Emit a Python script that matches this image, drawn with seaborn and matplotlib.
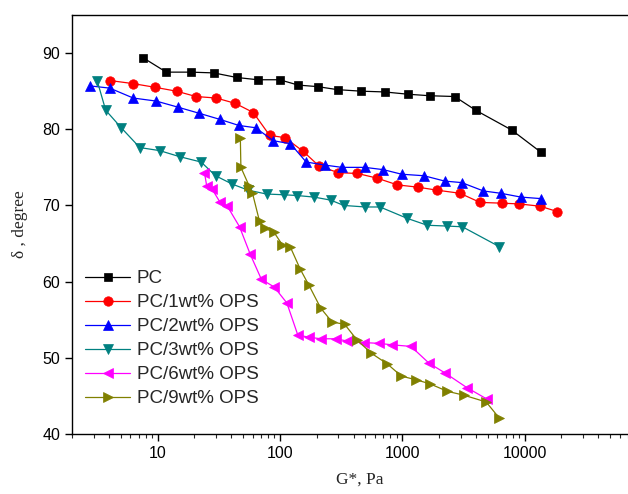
import matplotlib
matplotlib.use("Agg")
import matplotlib.pyplot as plt
import seaborn as sns
import numpy as np
from matplotlib.ticker import LogLocator, NullFormatter, FixedLocator

sns.set_style("ticks")
plt.rcParams['font.family'] = ['Liberation Sans', 'DejaVu Sans']

# ---- data ----
labels = ["PC", "PC/1wt% OPS", "PC/2wt% OPS", "PC/3wt% OPS", "PC/6wt% OPS", "PC/9wt% OPS"]

pc_x = [7.6, 11.8, 18.6, 28.8, 44.3, 66, 99.5, 141, 203, 296, 463, 718, 1114, 1684, 2680, 3980, 7840, 13550]
pc_y = [89.4, 87.5, 87.5, 87.4, 86.8, 86.5, 86.5, 85.8, 85.6, 85.2, 85.0, 84.9, 84.6, 84.4, 84.3, 82.5, 79.9, 77.0]

pc1_x = [4.07, 6.28, 9.6, 14.3, 20.6, 30.2, 43.2, 60.6, 82.4, 110, 155, 208, 300, 430, 618, 912, 1343, 1935, 2962, 4320, 6500, 9070, 13360, 18500]
pc1_y = [86.4, 86.0, 85.5, 85.0, 84.3, 84.1, 83.4, 82.2, 79.2, 78.9, 77.1, 75.2, 74.3, 74.2, 73.6, 72.7, 72.4, 72.0, 71.6, 70.4, 70.3, 70.2, 69.9, 69.2]

pc2_x = [2.79, 4.07, 6.33, 9.76, 14.7, 21.9, 32.3, 46.2, 63.3, 88.3, 122, 164, 233, 321, 493, 700, 988, 1504, 2220, 3060, 4610, 6380, 9300, 13540]
pc2_y = [85.7, 85.4, 84.1, 83.7, 82.9, 82.1, 81.3, 80.5, 80.2, 78.5, 78.1, 75.7, 75.3, 75.0, 75.0, 74.7, 74.1, 73.9, 73.2, 73.0, 71.9, 71.6, 71.1, 70.9]

pc3_x = [3.21, 3.77, 5.05, 7.16, 10.4, 15.2, 22.7, 29.8, 40.8, 55.2, 77.8, 109, 139, 190, 260, 333, 500, 658, 1100, 1600, 2300, 3100, 6200]
pc3_y = [86.4, 82.5, 80.2, 77.6, 77.2, 76.4, 75.7, 73.9, 72.8, 72.0, 71.5, 71.4, 71.3, 71.1, 70.7, 70.0, 69.8, 69.8, 68.3, 67.4, 67.3, 67.2, 64.6]

pc6_x = [24.2, 25.2, 27.8, 32.2, 37.2, 46.8, 57.2, 70.6, 89.8, 114, 140, 173, 216, 285, 356, 486, 645, 829, 1178, 1653, 2242, 3363, 4900]
pc6_y = [74.3, 72.6, 72.2, 70.5, 69.9, 67.2, 63.6, 60.3, 59.3, 57.2, 53.0, 52.7, 52.5, 52.5, 52.2, 52.0, 51.9, 51.7, 51.5, 49.3, 48.0, 46.1, 44.6]

pc9_x = [47.5, 48.0, 56.3, 59.5, 68.2, 75.0, 89.3, 105, 122, 147, 173, 216, 267, 338, 429, 559, 755, 983, 1307, 1675, 2338, 3180, 4850, 6200]
pc9_y = [78.9, 75.0, 72.5, 71.7, 67.9, 67.0, 66.5, 64.8, 64.5, 61.6, 59.5, 56.5, 54.7, 54.4, 52.3, 50.6, 49.2, 47.6, 47.1, 46.6, 45.6, 45.1, 44.2, 42.1]

xticks = [10, 100, 1000, 10000]
xtick_labels = ["10", "100", "1000", "10000"]
yticks = [40, 50, 60, 70, 80, 90]

series_x = [pc_x, pc1_x, pc2_x, pc3_x, pc6_x, pc9_x]
series_y = [pc_y, pc1_y, pc2_y, pc3_y, pc6_y, pc9_y]
colors = ["#000000", "#FF0000", "#0000FF", "#008080", "#FF00FF", "#808000"]
markers = ["s", "o", "^", "v", "<", ">"]
msizes = [6.0, 6.8, 7.5, 7.5, 7.5, 7.5]

fig = plt.figure(figsize=(6.28, 4.94), dpi=100)
ax = fig.add_axes([72/628, 60/494, 575/628, 419/494])

for xs, ys, lab, c, m, ms in zip(series_x, series_y, labels, colors, markers, msizes):
    sns.lineplot(x=xs, y=ys, ax=ax, color=c, marker=m, markersize=ms,
                 markeredgecolor=c, markeredgewidth=0.5, linewidth=0.9,
                 label=lab, sort=False, estimator=None)

ax.set_xscale("log")
ax.set_xlim(2, 1e5)
ax.set_ylim(40, 95)
ax.xaxis.set_major_locator(FixedLocator(xticks))
ax.set_xticklabels(xtick_labels)
ax.xaxis.set_minor_locator(LogLocator(base=10, subs=np.arange(2, 10)))
ax.xaxis.set_minor_formatter(NullFormatter())
ax.set_yticks(yticks)

for s in ["left", "bottom", "top", "right"]:
    ax.spines[s].set_visible(True)
    ax.spines[s].set_color("black")
    ax.spines[s].set_linewidth(1.0)

ax.tick_params(axis="both", which="major", direction="out", length=5, width=1,
               labelsize=11.5, colors="black", top=False, right=False)
ax.tick_params(axis="x", which="minor", direction="out", length=3, width=0.8,
               top=False)
ax.tick_params(axis="y", which="minor", left=False)

ax.set_xlabel("G*, Pa", fontsize=12.5, family=["Liberation Serif", "DejaVu Serif"], labelpad=8)
ax.set_ylabel("δ , degree", fontsize=12.5, family=["Liberation Serif", "DejaVu Serif"], labelpad=10)

leg = ax.legend(loc="lower left", bbox_to_anchor=(0.0, 0.032), frameon=False,
                fontsize=13.5, handlelength=2.4, handletextpad=0.35,
                labelspacing=0.37, borderaxespad=0.3)

fig.savefig("out.png", dpi=100)
